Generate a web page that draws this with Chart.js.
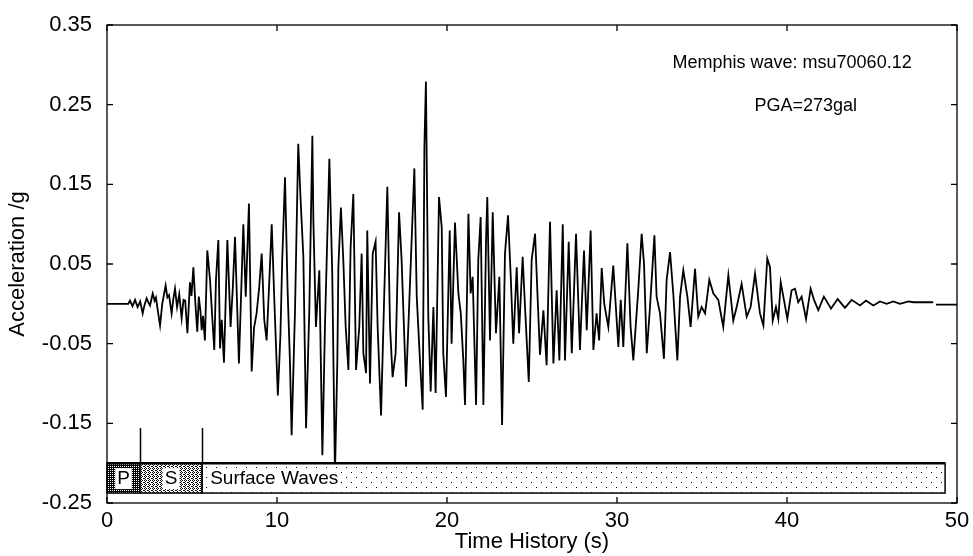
<!DOCTYPE html>
<html>
<head>
<meta charset="utf-8">
<script src="https://cdn.jsdelivr.net/npm/chart.js@4.4.1/dist/chart.umd.min.js"></script>
<style>
  html, body { margin: 0; padding: 0; background: #fff; }
</style>
</head>
<body>
<canvas id="grafico" width="973" height="556"></canvas>
<script>
// Memphis wave msu70060.12 - acceleration record
const tiempos = [
  0, 1.25, 1.35, 1.5, 1.65, 1.8, 1.95, 2.1, 2.2, 2.33, 2.45, 2.53, 2.69, 2.8, 2.88, 3.0, 3.12, 3.25, 3.45, 3.55,
  3.65, 3.8, 3.9, 4.0, 4.12, 4.25, 4.39, 4.5, 4.6, 4.73, 4.88, 4.97, 5.08, 5.2, 5.31, 5.4, 5.5, 5.57, 5.65, 5.76,
  5.9, 6.06, 6.2, 6.31, 6.41, 6.55, 6.65, 6.75, 6.88, 7.08, 7.27, 7.4, 7.53, 7.76, 8.02, 8.16, 8.35, 8.51, 8.65, 8.8,
  8.95, 9.1, 9.25, 9.39, 9.55, 9.69, 9.85, 10.05, 10.2, 10.3, 10.47, 10.62, 10.76, 10.86, 11.06, 11.25, 11.39, 11.55, 11.71, 11.9,
  12.08, 12.14, 12.29, 12.49, 12.67, 12.82, 13.08, 13.25, 13.41, 13.55, 13.61, 13.76, 13.9, 14.04, 14.2, 14.33, 14.49, 14.65, 14.84, 14.98,
  15.08, 15.24, 15.31, 15.47, 15.63, 15.8, 15.92, 16.12, 16.31, 16.49, 16.65, 16.8, 16.98, 17.18, 17.33, 17.59, 17.86, 18.08, 18.22, 18.41,
  18.57, 18.67, 18.76, 18.9, 19.04, 19.2, 19.33, 19.53, 19.69, 19.78, 19.94, 20.16, 20.27, 20.47, 20.67, 20.81, 20.96, 21.06, 21.26, 21.39,
  21.51, 21.71, 21.84, 21.98, 22.14, 22.3, 22.37, 22.53, 22.69, 22.88, 23.08, 23.24, 23.41, 23.59, 23.75, 23.9, 24.1, 24.24, 24.45, 24.59,
  24.81, 24.98, 25.18, 25.32, 25.47, 25.67, 25.86, 26.06, 26.26, 26.45, 26.61, 26.81, 26.94, 27.16, 27.34, 27.59, 27.82, 28.06, 28.22, 28.45,
  28.61, 28.8, 28.95, 29.1, 29.25, 29.49, 29.78, 29.95, 30.08, 30.22, 30.37, 30.61, 30.8, 30.96, 31.25, 31.45, 31.59, 31.75, 31.94, 32.2,
  32.33, 32.53, 32.76, 32.92, 33.12, 33.31, 33.55, 33.71, 33.9, 34.14, 34.33, 34.59, 34.78, 34.98, 35.18, 35.43, 35.67, 35.96, 36.25, 36.55,
  36.84, 37.04, 37.33, 37.63, 37.86, 38.12, 38.41, 38.61, 38.84, 39.0, 39.16, 39.35, 39.49, 39.63, 39.82, 40.02, 40.27, 40.47, 40.66, 40.86,
  41.12, 41.39, 41.59, 41.84, 42.17, 42.59, 42.98, 43.41, 43.8, 44.29, 44.65, 45.08, 45.47, 45.86, 46.25, 46.65, 47.14, 47.43, 48.6, 48.7,
  48.76, 50
];
const aceleracion = [
  0, 0, 0.004, -0.003, 0.005, -0.004, 0.003, -0.012, -0.002, 0.007, 0.001, -0.002, 0.013, 0.004, 0.008, -0.01, -0.027, 0.0, 0.023, 0.008,
  0.011, -0.012, 0.006, 0.019, -0.004, 0.012, -0.018, 0.005, 0.004, -0.037, 0.027, 0.01, 0.046, 0.0, -0.035, 0.009, -0.01, -0.033, -0.015, -0.046,
  0.067, 0.03, -0.02, -0.058, 0.03, 0.08, -0.056, -0.02, -0.074, 0.08, -0.029, 0.02, 0.084, -0.075, 0.1, 0.009, 0.126, -0.085, -0.03, -0.012,
  0.02, 0.063, -0.02, -0.046, 0.03, 0.1, 0.0, -0.115, -0.04, 0.05, 0.159, 0.02, -0.071, -0.165, -0.008, 0.201, 0.13, 0.059, -0.156, -0.008,
  0.211, 0.105, -0.029, 0.042, -0.19, -0.029, 0.182, 0.038, -0.215, -0.071, 0.046, 0.121, 0.055, -0.029, -0.083, 0.071, 0.138, -0.083, -0.029, 0.063,
  -0.062, -0.087, 0.092, -0.1, 0.063, 0.078, -0.029, -0.14, 0.013, 0.147, -0.029, -0.092, -0.062, 0.115, 0.055, -0.104, 0.046, 0.17, 0.009, -0.071,
  -0.133, 0.197, 0.279, -0.016, -0.11, -0.004, -0.112, 0.134, 0.096, -0.062, -0.117, 0.092, -0.05, 0.102, 0.013, -0.012, -0.071, -0.127, 0.113, 0.013,
  0.034, -0.127, 0.055, 0.109, -0.127, 0.084, 0.134, -0.046, 0.115, -0.037, 0.034, -0.152, 0.063, 0.111, 0.034, -0.05, 0.046, -0.037, 0.059, -0.004,
  -0.098, 0.055, 0.088, 0.013, -0.064, -0.008, -0.077, 0.103, -0.075, 0.017, -0.071, 0.1, -0.071, 0.078, -0.062, 0.088, -0.058, 0.067, -0.033, 0.092,
  -0.058, -0.012, -0.046, 0.045, 0.0, -0.029, 0.048, -0.01, -0.054, 0.005, -0.054, 0.076, -0.029, -0.071, 0.017, 0.088, 0.05, -0.062, -0.004, 0.086,
  0.009, -0.012, -0.069, 0.03, 0.065, 0.013, -0.071, 0.009, 0.042, 0.009, -0.029, 0.044, -0.016, -0.004, -0.012, 0.03, 0.013, 0.005, -0.029, 0.036,
  -0.021, -0.004, 0.025, -0.016, -0.004, 0.038, -0.012, -0.027, 0.057, 0.046, -0.021, -0.004, -0.019, 0.027, 0.005, -0.019, 0.017, 0.019, 0.002, 0.009,
  -0.019, 0.019, 0.005, -0.008, 0.009, -0.006, 0.006, -0.005, 0.005, -0.002, 0.004, -0.002, 0.003, 0.0, 0.003, 0.0, 0.003, 0.002, 0.002, null,
  -0.001, -0.001
];

const ticksX = [0, 10, 20, 30, 40, 50];
const ticksY = [-0.25, -0.15, -0.05, 0.05, 0.15, 0.25, 0.35];

// fases de la onda (s) y marcas de llegada
const faseInicio = [0, 1.94, 5.6];
const faseFin = [1.94, 5.6, 49.3];
const faseNombre = ['P', 'S', 'Surface Waves'];
const llegadas = [1.94, 5.6];

const FUENTE = "'Liberation Sans', Arial, sans-serif";
Chart.defaults.font.family = FUENTE;
Chart.defaults.color = '#000';

/** patrones de relleno para la banda de fases **/
function crearPatron(w, h, pixeles) {
    const c = document.createElement('canvas');
    c.width = w; c.height = h;
    const g = c.getContext('2d');
    g.fillStyle = '#fff'; g.fillRect(0, 0, w, h);
    g.fillStyle = '#000';
    pixeles.forEach(([px, py]) => g.fillRect(px, py, 1, 1));
    return c;
}

const tramas = [
    // P: casi negro con huecos blancos
    crearPatron(2, 2, [[1, 0], [0, 1], [1, 1]]),
    // S: trama cruzada
    crearPatron(4, 4, [[0, 0], [2, 0], [1, 1], [3, 2], [0, 2], [1, 3]]),
    // ondas superficiales: puntos sueltos
    crearPatron(10, 10, [[1, 2], [6, 7]])
];

const bandaFases = {
    id: 'bandaFases',
    afterDatasetsDraw(chart) {
        const { ctx, scales: { x, y } } = chart;
        const yTop = y.getPixelForValue(-0.2);
        const yBot = y.getPixelForValue(-0.2375);
        ctx.save();

        ctx.strokeStyle = '#000';
        ctx.lineWidth = 1.5;
        llegadas.forEach(t => {
            const px = Math.round(x.getPixelForValue(t)) + 0.5;
            ctx.beginPath();
            ctx.moveTo(px, y.getPixelForValue(-0.156));
            ctx.lineTo(px, yTop);
            ctx.stroke();
        });

        ctx.font = '19px ' + FUENTE;
        ctx.textBaseline = 'middle';
        faseInicio.forEach((t0, i) => {
            const x0 = x.getPixelForValue(t0), x1 = x.getPixelForValue(faseFin[i]);
            ctx.fillStyle = ctx.createPattern(tramas[i], 'repeat');
            ctx.fillRect(x0, yTop, x1 - x0, yBot - yTop);

            const w = ctx.measureText(faseNombre[i]).width;
            const xt = i < 2 ? (x0 + x1) / 2 - w / 2 : x0 + 8;
            const yc = (yTop + yBot) / 2;
            ctx.fillStyle = '#fff';
            ctx.fillRect(xt - 2, yc - 10, w + 4, 21);
            ctx.fillStyle = '#000';
            ctx.fillText(faseNombre[i], xt, yc + 1);

            ctx.lineWidth = 1.5;
            ctx.strokeRect(x0, yTop, x1 - x0, yBot - yTop);
        });
        ctx.lineWidth = 2.5;
        ctx.beginPath();
        ctx.moveTo(x.getPixelForValue(faseInicio[0]), yTop);
        ctx.lineTo(x.getPixelForValue(faseFin[2]), yTop);
        ctx.stroke();
        ctx.restore();
    }
};

// marco completo con marcas hacia adentro (estilo MATLAB) + textos
const marcoYTextos = {
    id: 'marcoYTextos',
    afterDraw(chart) {
        const { ctx, chartArea: a, scales: { x, y } } = chart;
        const L = 6;
        ctx.save();
        ctx.strokeStyle = '#000';
        ctx.lineWidth = 1.3;
        ctx.strokeRect(a.left, a.top, a.right - a.left, a.bottom - a.top);
        ctx.beginPath();
        ticksX.forEach(v => {
            const px = x.getPixelForValue(v);
            ctx.moveTo(px, a.bottom); ctx.lineTo(px, a.bottom - L);
            ctx.moveTo(px, a.top); ctx.lineTo(px, a.top + L);
        });
        ticksY.forEach(v => {
            const py = y.getPixelForValue(v);
            ctx.moveTo(a.left, py); ctx.lineTo(a.left + L, py);
            ctx.moveTo(a.right, py); ctx.lineTo(a.right - L, py);
        });
        ctx.stroke();

        ctx.fillStyle = '#000';
        ctx.font = '18px ' + FUENTE;
        ctx.textAlign = 'center';
        ctx.textBaseline = 'middle';
        ctx.fillText('Memphis wave: msu70060.12', x.getPixelForValue(40.3), y.getPixelForValue(0.302));
        ctx.fillText('PGA=273gal', x.getPixelForValue(41.1), y.getPixelForValue(0.248));
        ctx.restore();
    }
};

new Chart(document.getElementById('grafico'), {
    type: 'line',
    data: {
        datasets: [{
            data: tiempos.map((t, i) => ({ x: t, y: aceleracion[i] })),
            borderColor: '#000',
            borderWidth: 1.8,
            pointRadius: 0,
            tension: 0,
            spanGaps: false
        }]
    },
    options: {
        responsive: false,
        animation: false,
        layout: { padding: { top: 25, right: 16, left: 0, bottom: 0 } },
        plugins: { legend: { display: false }, tooltip: { enabled: false } },
        scales: {
            x: {
                type: 'linear', min: 0, max: 50,
                afterBuildTicks: s => { s.ticks = ticksX.map(v => ({ value: v })); },
                afterFit: s => { s.height = 53; },
                grid: { display: false },
                border: { display: false },
                ticks: { font: { size: 22 }, padding: -3, maxRotation: 0, callback: v => String(v) },
                title: { display: true, text: 'Time History (s)', font: { size: 22 }, padding: { top: 0, bottom: 1 } }
            },
            y: {
                type: 'linear', min: -0.25, max: 0.35,
                afterBuildTicks: s => { s.ticks = ticksY.map(v => ({ value: v })); },
                afterFit: s => { s.width = 107; },
                grid: { display: false },
                border: { display: false },
                ticks: { font: { size: 22 }, padding: 7, callback: v => v.toFixed(2) },
                title: { display: true, text: 'Acceleration /g', font: { size: 22 }, padding: { top: 5, bottom: 0 } }
            }
        }
    },
    plugins: [bandaFases, marcoYTextos]
});
</script>
</body>
</html>
